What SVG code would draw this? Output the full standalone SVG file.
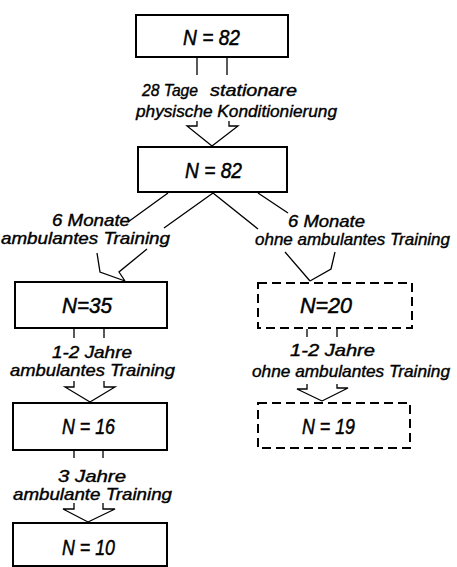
<svg xmlns="http://www.w3.org/2000/svg" width="457" height="567" viewBox="0 0 457 567">
<style>
.box{fill:#fff;stroke:#000;stroke-width:2}
.dash{fill:#fff;stroke:#000;stroke-width:2;stroke-dasharray:9 5}
.n{font-family:"Liberation Sans",Arial,sans-serif;font-style:italic;font-size:22px;fill:#000;stroke:#000;stroke-width:0.5}
.lbl{font-family:"Liberation Sans",Arial,sans-serif;font-style:italic;font-size:17px;fill:#000;stroke:#000;stroke-width:0.4}
.c{fill:none;stroke:#000;stroke-width:1.3;stroke-linejoin:miter}
</style>
<rect width="457" height="567" fill="#fff"/>
<g id="connectors">
  <path class="c" d="M197,58 V75 M227,58 V75 M197,121 V126 H187 L212,146 M229,121 V126 H238 L212,146"/>
  <path class="c" d="M168,193 L128,222 M213,193 L164,228 M97,253 L100,272 L125,281 M147,249 L119,272 L125,281"/>
  <path class="c" d="M213,193 L258,229 M258,193 L288,213 M285,252 L310,281 M335,252 L331,269 L310,281"/>
  <path class="c" d="M74,329 V338 M104,329 V338 M74,381 V387 H65 L90,402 M104,381 V387 H115 L90,402"/>
  <path class="c" d="M74,451 V458 M103,451 V458 M74,503 V509 H63 L88,522 M103,503 V509 H115 L88,522"/>
  <path class="c" d="M307,329 V337 M337,329 V337 M307,384 V389 H297 L322,401 M337,384 V388 H348 L322,401"/>
</g>
<g id="labels">
  <text class="lbl" y="96"><tspan x="142" textLength="56" lengthAdjust="spacingAndGlyphs">28 Tage</tspan><tspan x="210" textLength="87" lengthAdjust="spacingAndGlyphs">stationare</tspan></text>
  <text class="lbl" x="136" y="117" textLength="201" lengthAdjust="spacingAndGlyphs">physische Konditionierung</text>
  <text class="lbl" x="52" y="226" textLength="78" lengthAdjust="spacingAndGlyphs">6 Monate</text>
  <text class="lbl" x="1" y="244" textLength="169" lengthAdjust="spacingAndGlyphs">ambulantes Training</text>
  <text class="lbl" x="288" y="227" textLength="77" lengthAdjust="spacingAndGlyphs">6 Monate</text>
  <text class="lbl" x="255" y="245" textLength="195" lengthAdjust="spacingAndGlyphs">ohne ambulantes Training</text>
  <text class="lbl" x="52" y="358" textLength="80" lengthAdjust="spacingAndGlyphs">1-2 Jahre</text>
  <text class="lbl" x="10" y="376" textLength="165" lengthAdjust="spacingAndGlyphs">ambulantes Training</text>
  <text class="lbl" x="290" y="356" textLength="85" lengthAdjust="spacingAndGlyphs">1-2 Jahre</text>
  <text class="lbl" x="252" y="377" textLength="198" lengthAdjust="spacingAndGlyphs">ohne ambulantes Training</text>
  <text class="lbl" x="58" y="482" textLength="68" lengthAdjust="spacingAndGlyphs">3 Jahre</text>
  <text class="lbl" x="13" y="500" textLength="159" lengthAdjust="spacingAndGlyphs">ambulante Training</text>
</g>
<g id="n1"><rect class="box" x="136" y="15" width="152" height="42"/><text class="n" x="183" y="45" textLength="57" lengthAdjust="spacingAndGlyphs">N = 82</text></g>
<g id="n2"><rect class="box" x="138" y="147" width="149" height="45"/><text class="n" x="185" y="178" textLength="57" lengthAdjust="spacingAndGlyphs">N = 82</text></g>
<g id="n3"><rect class="box" x="15" y="282" width="152" height="46"/><text class="n" x="62" y="313" textLength="50" lengthAdjust="spacingAndGlyphs">N=35</text></g>
<g id="n4"><rect class="dash" x="258" y="283" width="154" height="45"/><text class="n" x="300" y="313" textLength="52" lengthAdjust="spacingAndGlyphs">N=20</text></g>
<g id="n5"><rect class="box" x="13" y="403" width="154" height="47"/><text class="n" x="62" y="434" textLength="53" lengthAdjust="spacingAndGlyphs">N = 16</text></g>
<g id="n6"><rect class="dash" x="258" y="403" width="152" height="45"/><text class="n" x="302" y="434" textLength="53" lengthAdjust="spacingAndGlyphs">N = 19</text></g>
<g id="n7"><rect class="box" x="13" y="523" width="154" height="43"/><text class="n" x="62" y="555" textLength="53" lengthAdjust="spacingAndGlyphs">N = 10</text></g>
</svg>
